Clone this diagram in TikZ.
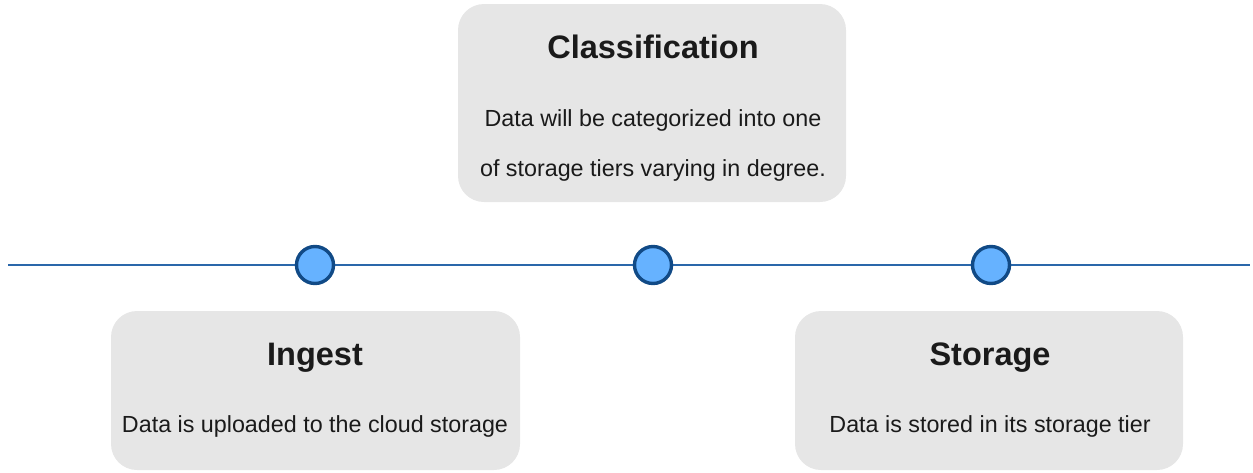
\documentclass[tikz,border=0pt]{standalone}
\usepackage{fontspec}
\setmainfont{Liberation Sans}
\definecolor{cardgray}{HTML}{E6E6E6}
\definecolor{dotfill}{HTML}{66B2FF}
\definecolor{dotedge}{HTML}{114A86}
\definecolor{axisblue}{HTML}{2A67AA}
\definecolor{ink}{HTML}{1A1A1A}
\begin{document}
\begin{tikzpicture}[x=1pt,y=-1pt,
  card/.style={fill=cardgray, draw=none, rounded corners=26pt, inner sep=0pt},
  title/.style={anchor=base, text=ink, font=\fontsize{32.5}{37}\selectfont\bfseries},
  body/.style={anchor=base, text=ink, font=\fontsize{23.3}{28}\selectfont},
  dot/.style={circle, draw=dotedge, line width=3.4pt, fill=dotfill,
              minimum size=37pt, inner sep=0pt},
  axis/.style={draw=axisblue, line width=2.8pt}]
\useasboundingbox (0,0) rectangle (1253,472);

% timeline axis
\coordinate (axisL) at (8,265);
\coordinate (axisR) at (1250,265);
\draw[axis] (axisL) -- (axisR);

% stage markers
\node[dot] (d1) at (315,265) {};
\node[dot] (d2) at (653,265) {};
\node[dot] (d3) at (991,265) {};

% cards
\node[card, minimum width=388pt, minimum height=198pt] (classcard) at (652,103) {};
\node[card, minimum width=409pt, minimum height=159pt] (ingestcard) at (315.5,390.5) {};
\node[card, minimum width=388pt, minimum height=159pt] (storecard) at (989,390.5) {};

% Classification
\node[title] (classtitle) at (653,58) {Classification};
\node[body] (classline1) at (653,126) {Data will be categorized into one};
\node[body] (classline2) at (653,176) {of storage tiers varying in degree.};

% Ingest
\node[title] (ingesttitle) at (315,365) {Ingest};
\node[body] (ingestline) at (315,432) {Data is uploaded to the cloud storage};

% Storage
\node[title] (storetitle) at (990,365) {Storage};
\node[body] (storeline) at (990,432) {Data is stored in its storage tier};
\end{tikzpicture}
\end{document}
